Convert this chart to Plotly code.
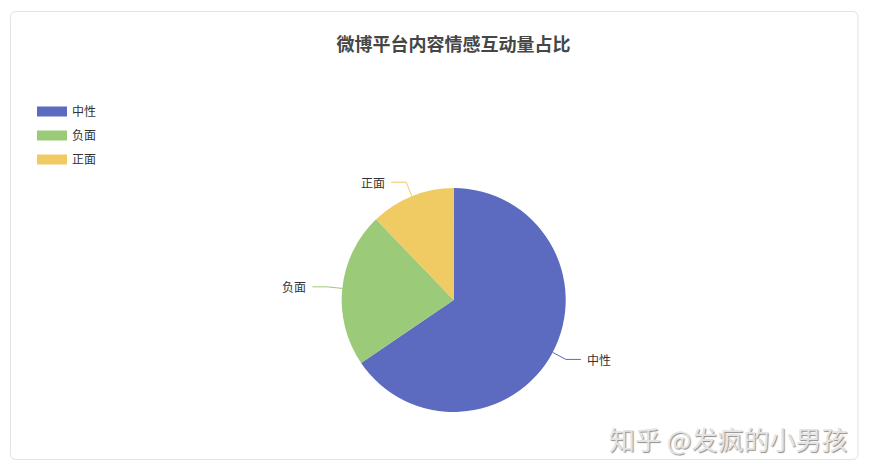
import math
import plotly.graph_objects as go

# data
labels = ["中性", "负面", "正面"]
values = [65.5, 22.3, 12.2]
colors = ["#5c6bc0", "#9bca78", "#f0ca63"]
title_text = "微博平台内容情感互动量占比"
watermark = "知乎 @发疯的小男孩"

W, H = 869, 473
OFF = 8                            # page body margin
FW, FH = W - OFF, H - OFF          # figure size
cx, cy, r = 453.7, 300.0, 112.0   # pie centre / radius in window px
FONT = "Noto Sans CJK SC, Microsoft YaHei, sans-serif"


def px(x):
    return (x - OFF) / FW


def py(y):
    return 1 - (y - OFF) / FH


fig = go.Figure()

fig.add_trace(go.Pie(
    labels=labels, values=values,
    marker=dict(colors=colors, line=dict(width=0)),
    sort=False, direction="clockwise", rotation=0,
    textinfo="none", hoverinfo="label+percent",
    showlegend=False,
    domain=dict(x=[px(cx - r), px(cx + r)], y=[py(cy + r), py(cy - r)]),
))

# legend entries (one group each so the gap can be set)
for lab, col in zip(labels, colors):
    fig.add_trace(go.Scatter(
        x=[None], y=[None], mode="lines", name=lab, legendgroup=lab,
        line=dict(color=col, width=10), hoverinfo="skip",
    ))

# leader lines + outside labels, from slice mid angles
total = float(sum(values))
acc = 0.0
for lab, v, col in zip(labels, values, colors):
    mid = (acc + v / 2) / total * 2 * math.pi
    acc += v
    s, c = math.sin(mid), math.cos(mid)
    x1, y1 = cx + r * s, cy - r * c
    x2, y2 = cx + (r + 15) * s, cy - (r + 15) * c
    d = 1 if s >= 0 else -1
    x3 = x2 + 15 * d
    fig.add_shape(
        type="path", xref="paper", yref="paper",
        path=f"M{px(x1)},{py(y1)} L{px(x2)},{py(y2)} L{px(x3)},{py(y2)}",
        line=dict(color=col, width=1),
    )
    fig.add_annotation(
        x=px(x3 + 4 * d), y=py(y2), xref="paper", yref="paper",
        text=lab, showarrow=False,
        xanchor="left" if d > 0 else "right", yanchor="middle",
        font=dict(size=12, color="#333333", family=FONT),
    )

# card border with rounded corners
x0, y0, x1b, y1b, rr = 10.5, 11.5, 858.0, 459.5, 6
fig.add_shape(
    type="path", xref="paper", yref="paper", layer="below",
    path=(f"M{px(x0 + rr)},{py(y0)} L{px(x1b - rr)},{py(y0)} "
          f"Q{px(x1b)},{py(y0)} {px(x1b)},{py(y0 + rr)} "
          f"L{px(x1b)},{py(y1b - rr)} Q{px(x1b)},{py(y1b)} {px(x1b - rr)},{py(y1b)} "
          f"L{px(x0 + rr)},{py(y1b)} Q{px(x0)},{py(y1b)} {px(x0)},{py(y1b - rr)} "
          f"L{px(x0)},{py(y0 + rr)} Q{px(x0)},{py(y0)} {px(x0 + rr)},{py(y0)} Z"),
    line=dict(color="#e2e2e2", width=1),
)

# watermark
fig.add_annotation(
    x=px(849), y=py(438), xref="paper", yref="paper",
    text=watermark, showarrow=False, xanchor="right", yanchor="middle",
    font=dict(size=26, color="#e4e4e4", family=FONT, shadow="1px 1px 1px #8e8e8e"),
)

fig.update_layout(
    width=FW, height=FH,
    margin=dict(l=0, r=0, t=0, b=0),
    paper_bgcolor="white", plot_bgcolor="white",
    title=dict(
        text=f"<b>{title_text}</b>", x=px(453.5), y=py(45),
        xanchor="center", yanchor="middle",
        font=dict(size=18, color="#464646", family=FONT),
    ),
    legend=dict(
        x=px(32), y=py(97), xanchor="left", yanchor="top",
        font=dict(size=12, color="#333333", family=FONT),
        tracegroupgap=5, bgcolor="rgba(0,0,0,0)",
    ),
    xaxis=dict(visible=False),
    yaxis=dict(visible=False),
)

fig.write_html("out.html")
